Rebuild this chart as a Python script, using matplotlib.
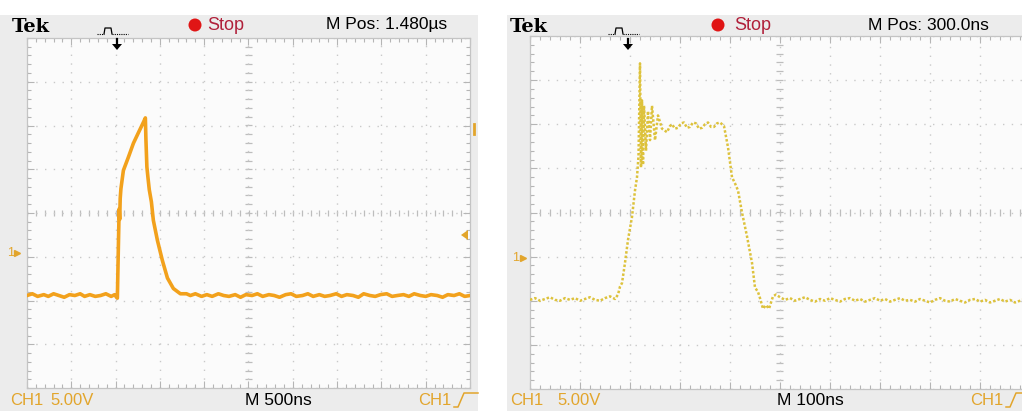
import matplotlib
matplotlib.use("Agg")
import matplotlib.pyplot as plt
from matplotlib.patches import Rectangle, Ellipse, Polygon
from matplotlib.lines import Line2D
import numpy as np

# ---------------- waveform readings ----------------
# Left capture: 500 ns/div, 5 V/div (time in ns from trigger, volts from ground)
t_left = [-1020, -960, -900, -830, -780, -720, -660, -600, -540, -480, -420, -370,
          -310, -250, -190, -130, -70, -30, -10,
          0, 8, 14, 20, 26, 32, 40, 68, 124, 181, 237, 294, 316,
          322, 333, 345, 360, 384, 406, 452, 508, 565, 632, 711, 780,
          824, 880, 950, 1010, 1070, 1140, 1200, 1260, 1330, 1390, 1450, 1520,
          1580, 1640, 1710, 1770, 1830, 1900, 1960, 2020, 2090, 2150, 2210,
          2280, 2340, 2400, 2470, 2530, 2590, 2660, 2720, 2780, 2850, 2910,
          2970, 3040, 3100, 3160, 3230, 3290, 3350, 3420, 3480, 3540, 3610,
          3670, 3730, 3800, 3860, 3920, 3980]
v_left = [-4.9, -4.7, -5.0, -4.8, -5.0, -4.7, -4.9, -5.1, -4.8, -4.9, -4.7, -5.0,
          -4.8, -5.0, -4.9, -4.7, -5.0, -4.8, -5.1,
          -5.2, -1.0, 2.0, 5.0, 3.8, 6.2, 7.3, 9.4, 10.9, 12.5, 13.7, 14.9, 15.4,
          13.0, 9.8, 8.6, 7.2, 5.8, 3.7, 1.4, -0.9, -2.9, -4.1, -4.7, -4.7,
          -4.9, -4.7, -5.0, -4.8, -5.0, -4.7, -4.9, -5.0, -4.8, -5.1, -4.8, -4.9,
          -4.7, -5.0, -4.8, -4.9, -5.1, -4.8, -4.7, -5.0, -4.9, -4.7, -5.0,
          -4.8, -5.0, -4.9, -4.7, -5.0, -4.8, -4.9, -5.1, -4.7, -4.9, -5.0,
          -4.8, -4.7, -5.0, -4.9, -4.8, -5.0, -4.7, -4.9, -5.0, -4.8, -4.9,
          -5.1, -4.8, -4.9, -4.7, -5.0, -4.9]

# Right capture: 100 ns/div, 5 V/div
t_right = [-200, -190, -180, -170, -160, -150, -140, -130, -120, -110, -100, -90,
           -80, -70, -60, -50, -40, -30, -24, -20, -16, -10, -4, 4, 10, 14, 17,
           20, 22, 24, 26, 28, 32, 36, 40, 44, 50, 56, 64, 74, 80, 84, 90, 96,
           102, 108, 114, 120, 126, 132, 138, 144, 150, 156, 162, 168, 174, 180,
           188, 196, 200, 204, 210, 216, 224, 234, 244, 250, 256, 260, 266, 272,
           278, 286, 292, 300, 310, 320, 330, 340, 350, 360, 370, 380, 390, 400,
           410, 420, 430, 440, 450, 460, 470, 480, 490, 500, 510, 520, 530, 540,
           550, 560, 570, 580, 590, 600, 610, 620, 630, 640, 650, 660, 670, 680,
           690, 700, 710, 720, 730, 740, 750, 760, 770, 780, 790, 800]
v_right = [-4.8, -4.6, -4.9, -4.7, -4.5, -4.8, -4.9, -4.6, -4.8, -4.6, -4.9, -4.7,
           -4.5, -4.8, -4.9, -4.6, -4.4, -4.7, -4.2, -3.3, -2.9, -0.6, 2.0, 4.6, 7.6, 9.1, 11.5,
           22.0, 10.2, 17.8, 10.5, 17.2, 12.1, 16.6, 13.3, 17.2, 13.3, 16.1, 14.6, 14.2, 14.9, 15.1, 14.6, 14.7,
           15.2, 15.3, 14.7, 14.8, 15.3, 15.2, 14.6, 14.7, 15.1, 15.3, 14.8, 14.8, 15.2, 15.3,
           14.9, 12.5, 10.8, 9.1, 8.4, 7.6, 5.1, 2.4, -0.6, -3.4, -3.9, -4.6, -5.8, -5.4,
           -5.8, -4.4, -4.2, -4.5, -4.8, -4.6, -4.9, -4.7, -4.5, -4.8, -5.0, -4.7, -4.9, -4.6,
           -4.8, -5.0, -4.7, -4.6, -4.9, -4.7, -5.0, -4.8, -4.6, -4.9, -4.7, -5.0, -4.8, -4.6,
           -4.9, -4.8, -5.0, -4.7, -4.9, -5.1, -4.8, -4.6, -4.9, -5.0, -4.7, -4.9, -5.1, -4.8,
           -4.7, -5.0, -4.8, -5.1, -4.9, -4.7, -5.0, -4.8, -5.1, -4.9, -4.7, -5.0]

# ---------------- figure ----------------
W, H = 1022, 411
fig = plt.figure(figsize=(W / 100, H / 100), dpi=100)
fig.patch.set_facecolor('white')

SANS = ['Liberation Sans Narrow', 'Liberation Sans', 'DejaVu Sans']
SERIF = ['DejaVu Serif']
CH_COLOR = '#E2A52C'
GRID_COLOR = '#C9C9C9'


def fx(x):
    return x / W


def fy(y):
    return 1 - y / H


def fig_text(x, y, s, **kw):
    kw.setdefault('family', SANS)
    kw.setdefault('va', 'center')
    kw.setdefault('ha', 'left')
    fig.text(fx(x), fy(y), s, **kw)


def fig_line(xs, ys, **kw):
    fig.add_artist(Line2D([fx(v) for v in xs], [fy(v) for v in ys],
                          transform=fig.transFigure, **kw))


panels = [
    dict(screen=(0, 15, 478, 411), grid=(27, 38, 470, 388),
         t=t_left, v=v_left, tdiv=500.0, tcenter=1480.0, vdiv=5.0, vcenter=4.53,
         color='#F2A11C', lw=2.6, ls='-',
         tek_x=12, glyph_x=97, arrow_x=117, dot_x=195, stop_x=207,
         mpos_x=326, mpos='M Pos: 1.480µs',
         ch_x=10, volts_x=50, mscale_x=245, mscale='M 500ns', ch2_x=418,
         gnd_num_x=7, gnd_tri_x=17),
    dict(screen=(507, 15, 1022, 411), grid=(530, 36, 1030, 389),
         t=t_right, v=v_right, tdiv=100.0, tcenter=300.0, vdiv=5.0, vcenter=5.1,
         color='#DDC23C', lw=1.8, ls=(0, (1, 0.8)),
         tek_x=510, glyph_x=608, arrow_x=628, dot_x=718, stop_x=734,
         mpos_x=868, mpos='M Pos: 300.0ns',
         ch_x=510, volts_x=557, mscale_x=777, mscale='M 100ns', ch2_x=970,
         gnd_num_x=512, gnd_tri_x=523),
]

for p in panels:
    sx0, sy0, sx1, sy1 = p['screen']
    fig.add_artist(Rectangle((fx(sx0), fy(sy1)), fx(sx1 - sx0), (sy1 - sy0) / H,
                             transform=fig.transFigure, facecolor='#ECECEC',
                             edgecolor='none', zorder=0))

    gx0, gy0, gx1, gy1 = p['grid']
    ax = fig.add_axes([fx(gx0), fy(gy1), fx(gx1 - gx0), (gy1 - gy0) / H])
    ax.set_facecolor('#FBFBFB')
    td, vd = p['tdiv'], p['vdiv']
    tc, vc = p['tcenter'], p['vcenter']
    ax.set_xlim(tc - 5 * td, tc + 5 * td)
    ax.set_ylim(vc - 4 * vd, vc + 4 * vd)

    xmaj = tc + td * np.arange(-5, 6)
    ymaj = vc + vd * np.arange(-4, 5)
    xmin = tc + td * np.arange(-5, 5.01, 0.2)
    ymin = vc + vd * np.arange(-4, 4.01, 0.2)
    ax.set_xticks(xmaj)
    ax.set_yticks(ymaj)
    ax.set_xticks(xmin, minor=True)
    ax.set_yticks(ymin, minor=True)
    ax.tick_params(which='both', direction='in', top=True, right=True,
                   labelbottom=False, labelleft=False, color='#B5B5B5', width=0.8)
    ax.tick_params(which='major', length=5)
    ax.tick_params(which='minor', length=3)
    ax.grid(True, which='major', color=GRID_COLOR, linestyle=(0, (1, 5.3)), linewidth=1.0)
    for s in ax.spines.values():
        s.set_color('#C4C4C4')
        s.set_linewidth(0.9)

    # centre crosshair tick marks
    ax.vlines(xmin, vc - 0.07 * vd, vc + 0.07 * vd, color='#BDBDBD', lw=0.9, zorder=1)
    ax.hlines(ymin, tc - 0.07 * td, tc + 0.07 * td, color='#BDBDBD', lw=0.9, zorder=1)

    # waveform
    ax.plot(p['t'], p['v'], color=p['color'], lw=p['lw'], linestyle=p['ls'],
            solid_joinstyle='round', zorder=3, clip_on=True)

    # ground reference marker
    ytr = ax.get_yaxis_transform()
    ax.text((p['gnd_num_x'] - gx0) / (gx1 - gx0), 0, '1', transform=ytr,
            color=CH_COLOR, fontsize=9, va='center', ha='left', family=SANS,
            clip_on=False)
    ax.plot([(p['gnd_tri_x'] - gx0) / (gx1 - gx0)], [0], transform=ytr, marker='>',
            color=CH_COLOR, markersize=4.5, clip_on=False)

    # header
    fig_text(p['tek_x'], 27, 'Tek', family=SERIF, fontweight='bold', fontsize=14,
             color='black')
    g = p['glyph_x']
    fig_line([g, g + 7], [34, 34], color='black', lw=0.8, linestyle=(0, (1, 1)))
    fig_line([g + 7, g + 8, g + 14, g + 15], [34, 28, 28, 34], color='black', lw=0.9)
    fig_line([g + 15, g + 31], [34, 34], color='black', lw=0.8, linestyle=(0, (1, 1)))
    a = p['arrow_x']
    fig_line([a, a], [39, 45], color='black', lw=1.6)
    fig.add_artist(Polygon([(fx(a - 5), fy(44)), (fx(a + 5), fy(44)), (fx(a), fy(50))],
                           closed=True, transform=fig.transFigure,
                           facecolor='black', edgecolor='none'))
    fig.add_artist(Ellipse((fx(p['dot_x']), fy(25)), 13 / W, 13 / H,
                           transform=fig.transFigure,
                           facecolor='#E01515', edgecolor='none'))
    fig_text(p['stop_x'], 25, 'Stop', color='#B0203A', fontsize=13)
    fig_text(p['mpos_x'], 25, p['mpos'], color='black', fontsize=12.5)

    # footer
    fig_text(p['ch_x'], 400, 'CH1', color=CH_COLOR, fontsize=12)
    fig_text(p['volts_x'], 400, '5.00V', color=CH_COLOR, fontsize=12)
    fig_text(p['mscale_x'], 400, p['mscale'], color='black', fontsize=12.5)
    fig_text(p['ch2_x'], 400, 'CH1', color=CH_COLOR, fontsize=12)
    c2 = p['ch2_x'] + 36
    fig_line([c2, c2 + 4, c2 + 10, c2 + 24], [407, 407, 393, 393], color=CH_COLOR, lw=1.1)

# trigger level marks on the left capture
fig.add_artist(Polygon([(fx(461), fy(235)), (fx(468), fy(230)), (fx(468), fy(240))],
                       closed=True, transform=fig.transFigure,
                       facecolor=CH_COLOR, edgecolor='none'))
fig_line([474, 474], [124, 134], color=CH_COLOR, lw=2.0)

fig.savefig('out.png', dpi=100, facecolor='white')
